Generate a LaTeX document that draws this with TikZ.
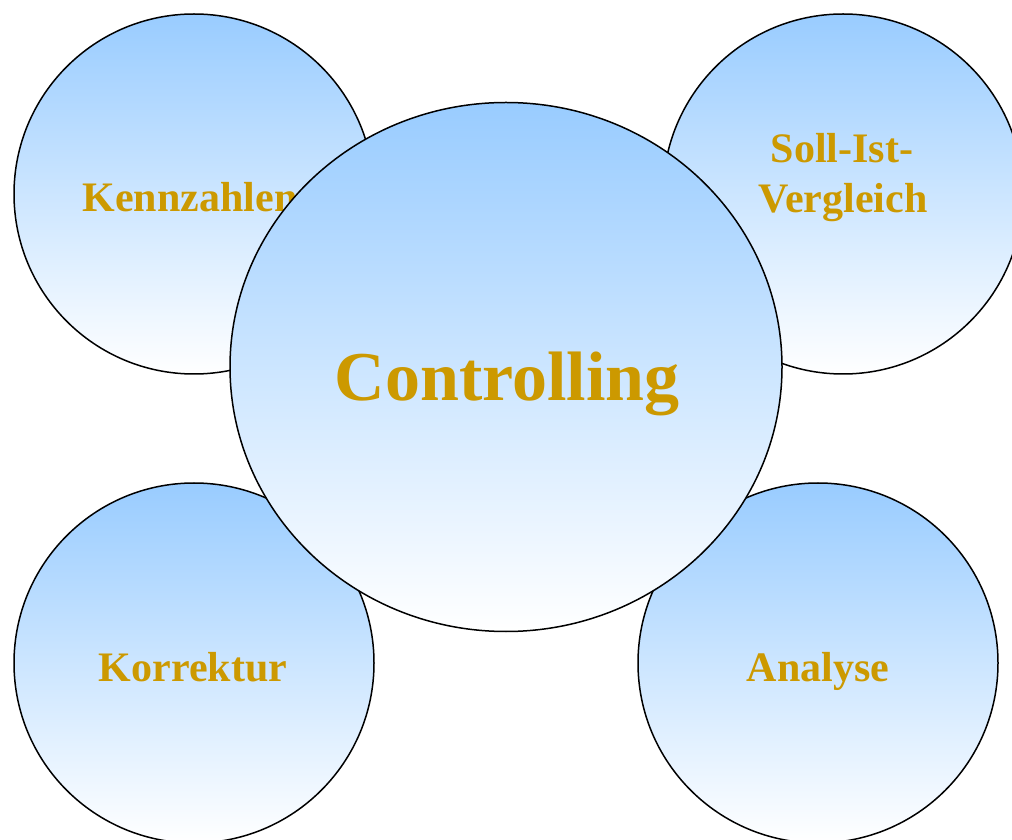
\documentclass[tikz,border=0pt]{standalone}
\usepackage{fontspec}
\setmainfont{Liberation Serif}
\usetikzlibrary{shapes.geometric}
\definecolor{skyblue}{RGB}{153,204,255}
\definecolor{gold}{RGB}{204,153,0}
\tikzset{
    topic/.style={circle, draw, line width=1.5pt, minimum size=360pt, inner sep=0pt,
        top color=skyblue, bottom color=white},
    core/.style={ellipse, draw, line width=1.5pt, minimum width=552pt, minimum height=529pt,
        inner sep=0pt, top color=skyblue, bottom color=white},
    topictext/.style={anchor=base, text=gold, font=\bfseries\fontsize{42}{50}\selectfont, align=center},
    coretext/.style={anchor=base, text=gold, font=\bfseries\fontsize{70}{80}\selectfont}
}
\begin{document}
\begin{tikzpicture}[x=1pt, y=1pt]
        \useasboundingbox (0, 0) rectangle (1012, 839);

        % Draw the four outer circles
        \node[topic] (kennzahlen) at (194, 645) {};
        \node[topic] (sollist) at (843, 645) {};
        \node[topic] (korrektur) at (194, 176) {};
        \node[topic] (analyse) at (818, 176) {};

        % Labels of the outer circles
        \node[topictext] (kennzahlentext) at (190, 627) {Kennzahlen};
        \node[topictext] (sollisttext) at (842, 676) {Soll-Ist-};
        \node[topictext] (vergleichtext) at (843, 626) {Vergleich};
        \node[topictext] (korrekturtext) at (193, 158) {Korrektur};
        \node[topictext] (analysetext) at (818, 158) {Analyse};

        % Draw the central ellipse on top
        \node[core] (controlling) at (506, 472) {};
        \node[coretext] (controllingtext) at (507, 438) {Controlling};
    \end{tikzpicture}
\end{document}
